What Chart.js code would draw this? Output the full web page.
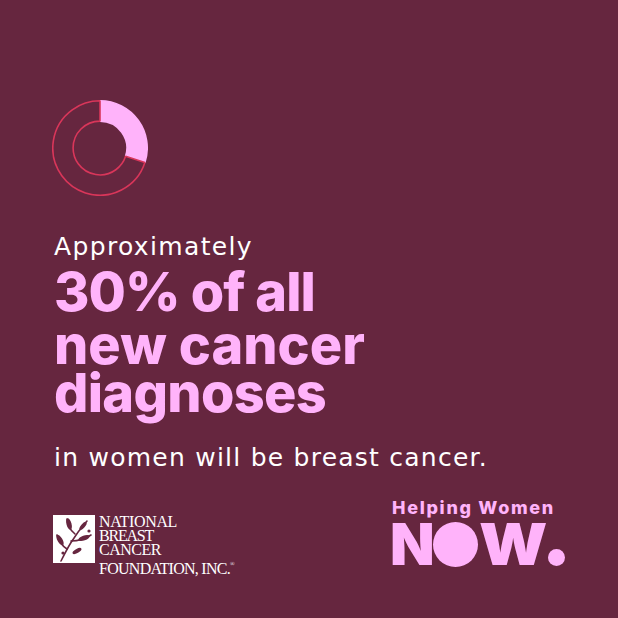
<!DOCTYPE html>
<html>
<head>
<meta charset="utf-8">
<script src="https://cdn.jsdelivr.net/npm/chart.js@4"></script>
<style>
  html, body { margin: 0; padding: 0; }
  body { width: 618px; height: 618px; background: #66263f; position: relative; overflow: hidden; }
  .line { position: absolute; left: 54px; white-space: nowrap; }
  .line span { display: inline-block; }
  .white { color: #ffffff; font-family: "DejaVu Sans", sans-serif; font-weight: 400; font-size: 25px; line-height: 25px; }
  .pink { color: #ffb3fa; font-family: Inter, sans-serif; font-weight: 800; font-size: 54px; line-height: 46px; }
  .logo { position: absolute; left: 99px; color: #ffffff; font-family: "Liberation Serif", serif; font-size: 16px; line-height: 14px; white-space: nowrap; }
  .logo span { display: inline-block; }
  .help { position: absolute; color: #ffb3fa; font-family: Inter, sans-serif; font-weight: 900; white-space: nowrap; }
  .help span { display: inline-block; }
  .now span { position: absolute; }
  .bola { background: #ffb3fa; border-radius: 50%; color: #ffb3fa; text-align: center; }
  #ring { position: absolute; left: 52px; top: 100px; }
</style>
</head>
<body>
<canvas id="ring" width="96" height="96"></canvas>

<div class="line white" style="top:234px"><span data-w="199">Approximately</span></div>
<div class="line pink" style="top:269px"><span data-w="261">30% of all</span></div>
<div class="line pink" style="top:322px"><span data-w="311">new cancer</span></div>
<div class="line pink" style="top:370px"><span data-w="272">diagnoses</span></div>
<div class="line white" style="top:445px"><span data-w="434">in women will be breast cancer.</span></div>

<svg style="position:absolute;left:53px;top:515px" width="42" height="48" viewBox="0 0 42 48">
  <rect width="42" height="48" fill="#ffffff"/>
  <g fill="none" stroke="#66263f" stroke-width="1.6" stroke-linecap="round">
    <path d="M8 46 C 14 34, 20 22, 34 6"/>
    <path d="M14 34 C 8 30, 5 24, 4 20"/>
    <path d="M18 26 C 26 26, 32 24, 38 20"/>
    <path d="M22 19 C 16 14, 14 10, 14 4"/>
  </g>
  <g fill="#66263f">
    <ellipse cx="7" cy="25" rx="2.5" ry="6" transform="rotate(-30 7 25)"/>
    <ellipse cx="31" cy="23" rx="2.5" ry="6" transform="rotate(70 31 23)"/>
    <ellipse cx="16" cy="9" rx="2.5" ry="6" transform="rotate(-15 16 9)"/>
    <ellipse cx="30" cy="11" rx="2" ry="5" transform="rotate(40 30 11)"/>
    <ellipse cx="24" cy="36" rx="2" ry="5" transform="rotate(60 24 36)"/>
    <circle cx="36" cy="16" r="1.6"/>
    <circle cx="10" cy="38" r="1.6"/>
  </g>
</svg>
<div class="logo" style="top:515px"><span data-w="78">NATIONAL</span></div>
<div class="logo" style="top:529px"><span data-w="54">BREAST</span></div>
<div class="logo" style="top:543px"><span data-w="62">CANCER</span></div>
<div class="logo" style="top:557px"><span data-w="131">FOUNDATION, INC.</span><sup style="font-size:6px;vertical-align:8px">®</sup></div>

<div class="help" style="left:392px;top:501px;font-size:18px;line-height:14px;font-weight:800"><span data-w="163">Helping Women</span></div>
<div class="help now" style="left:0;top:0;font-size:58px;line-height:46px">
  <span style="left:390px;top:521px">N</span><span class="bola" style="left:433px;top:522px;width:45px;height:45px;line-height:45px;font-size:44px">O</span><span style="left:479px;top:521px;transform:scaleX(1.09);transform-origin:left">W</span><span class="bola" style="left:548px;top:549px;width:17px;height:17px;line-height:17px;font-size:10px">.</span>
</div>

<script>
// dados do anel: 30% dos novos diagnósticos
const segmentLabels = ['Câncer de mama', 'Outros cânceres'];
const segmentValues = [30, 70];
const segmentFill = ['#ffb3fa', '#66263f'];
const segmentBorder = ['#ffb3fa', '#d9365a'];

const ctx = document.getElementById('ring').getContext('2d');
const anel = new Chart(ctx, {
    type: 'doughnut',
    data: {
        labels: segmentLabels,
        datasets: [{
            data: segmentValues,
            backgroundColor: segmentFill,
            borderColor: segmentBorder,
            borderWidth: 1.6
        }]
    },
    options: {
        responsive: false,
        animation: false,
        events: [],
        cutout: '57%',
        layout: { padding: 0 },
        plugins: {
            legend: { display: false },
            tooltip: { enabled: false }
        }
    }
});

// ajusta o espaçamento das letras para a largura do original
function ajusta() {
    document.querySelectorAll('span[data-w]').forEach(function (s) {
        const alvo = parseFloat(s.dataset.w);
        const largura = s.getBoundingClientRect().width;
        const n = s.textContent.length;
        if (n > 1) s.style.letterSpacing = ((alvo - largura) / n) + 'px';
    });
}
if (document.fonts && document.fonts.ready) document.fonts.ready.then(ajusta); else ajusta();
</script>
</body>
</html>
